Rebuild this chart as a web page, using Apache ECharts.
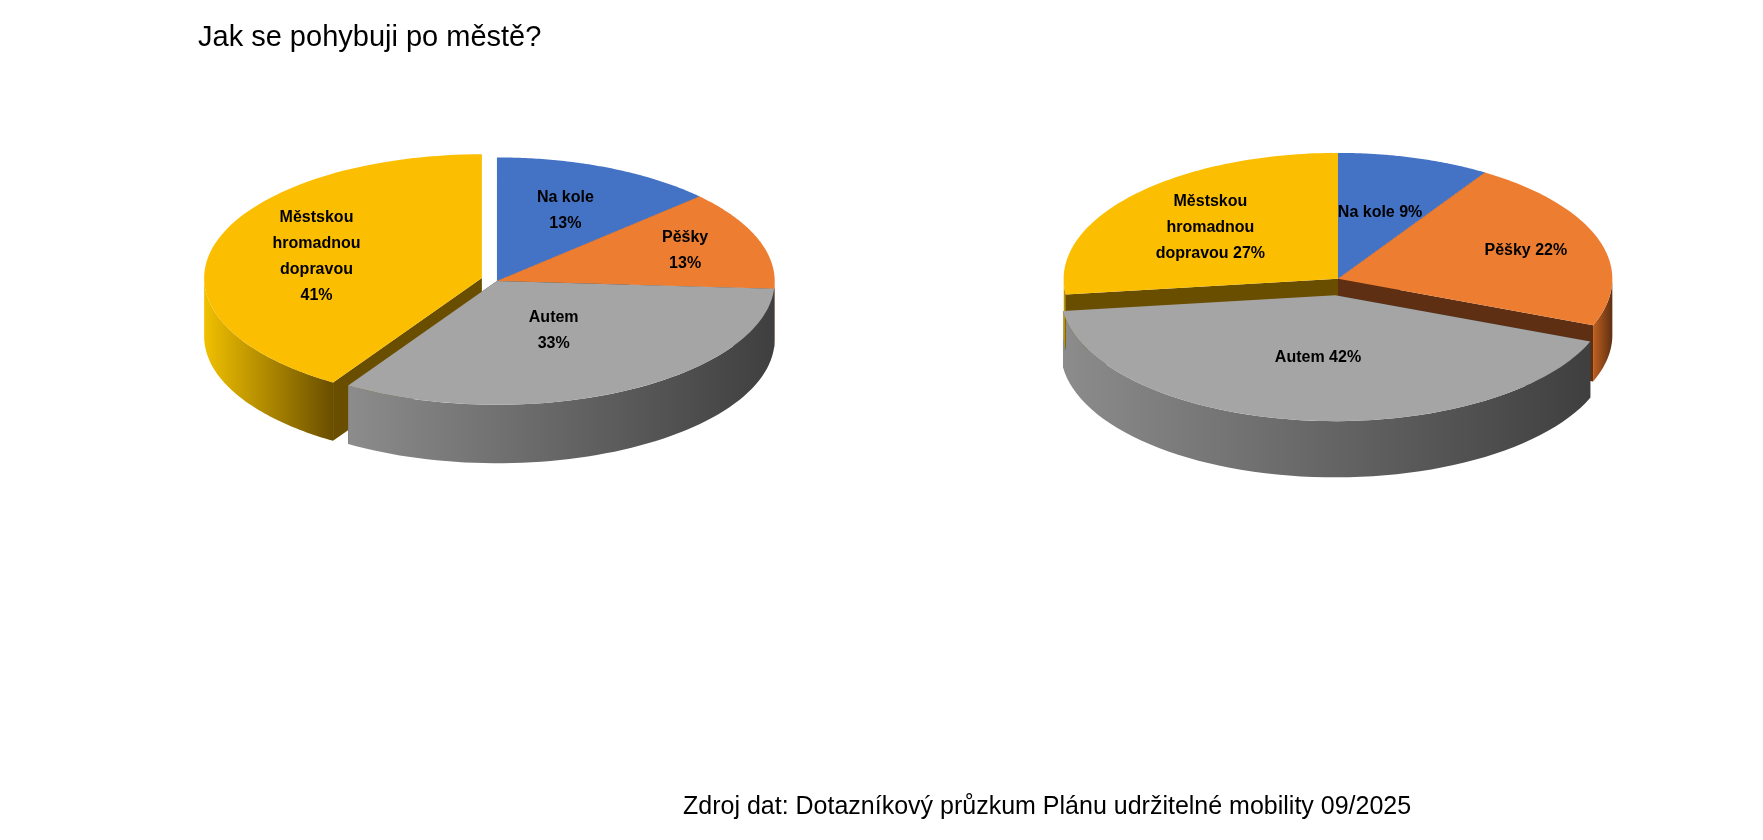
<!DOCTYPE html>
<html><head><meta charset="utf-8">
<script src="https://cdn.jsdelivr.net/npm/echarts@6/dist/echarts.min.js"></script>
<style>html,body{margin:0;padding:0;background:#fff}#c{width:1763px;height:840px}</style>
</head><body><div id="c"></div>
<script>
const categories = ['Na kole','Pěšky','Autem','Městskou\nhromadnou\ndopravou'];
const valuesLeft = [13,13,33,41];
const valuesRight = [9,22,42,27];
const labelsLeft = ['Na kole\n13%','Pěšky\n13%','Autem\n33%','Městskou\nhromadnou\ndopravou\n41%'];
const labelsRight = ['Na kole 9%','Pěšky 22%','Autem 42%','Městskou\nhromadnou\ndopravou 27%'];
const colors = ['#4472C4','#ED7D31','#A5A5A5','#FBBE00'];
const sideDark = ['#2a4a85','#5e2f12','#3f3f3f','#6a4e00'];
const sideLight = ['#5b86d0','#c06020','#8c8c8c','#f0c000'];

const S = 1763/1568;
const pies = [
  {vals: valuesLeft, labels: labelsLeft, cx: 442*S, cy: 250*S, rx: 247*S, ry: 110*S, depth: 52*S, explode: {3: 14*S}, lf:[0.62,0.72,0.45,0.62]},
  {vals: valuesRight, labels: labelsRight, cx: 1190*S, cy: 248*S, rx: 244*S, ry: 112*S, depth: 50*S, explode: {2: 20*S}, lf:[0.55,0.72,0.5,0.62]}
];

function pt(p, ox, oy, th, k, dy) {
  return [p.cx + ox + k*p.rx*Math.sin(th), p.cy + oy - k*p.ry*Math.cos(th) + (dy||0)];
}

function build(p) {
  const total = p.vals.reduce((a,b)=>a+b,0);
  const slices = [];
  let a = 0;
  p.vals.forEach((v,i)=>{
    const a0 = a, a1 = a + v/total*2*Math.PI; a = a1;
    const mid = (a0+a1)/2, e = p.explode[i]||0;
    slices.push({i, a0, a1, mid, ox: e*Math.sin(mid), oy: -e*Math.cos(mid)*p.ry/p.rx*1.6});
  });
  const walls = [], outers = [], tops = [], texts = [];
  slices.forEach(s=>{
    // radial walls
    [s.a0, s.a1].forEach(th=>{
      const c = pt(p,s.ox,s.oy,0,0), e = pt(p,s.ox,s.oy,th,1);
      walls.push({type:'polygon', shape:{points:[c,e,[e[0],e[1]+p.depth],[c[0],c[1]+p.depth]]},
        style:{fill:sideDark[s.i]}});
    });
    // outer front wall
    const lo = Math.max(s.a0, Math.PI/2), hi = Math.min(s.a1, 1.5*Math.PI);
    if (hi > lo) {
      const top = [], bot = [];
      for (let k=0;k<=60;k++){const th=lo+(hi-lo)*k/60; top.push(pt(p,s.ox,s.oy,th,1)); bot.push(pt(p,s.ox,s.oy,th,1,p.depth));}
      outers.push({type:'polygon', shape:{points: top.concat(bot.reverse())},
        style:{fill:{type:'linear',x:0,y:0,x2:1,y2:0,colorStops:[{offset:0,color:sideLight[s.i]},{offset:1,color:sideDark[s.i]}]}}});
    }
    const pts = [pt(p,s.ox,s.oy,0,0)];
    for (let k=0;k<=80;k++){pts.push(pt(p,s.ox,s.oy,s.a0+(s.a1-s.a0)*k/80,1));}
    tops.push({type:'polygon', shape:{points:pts}, style:{fill:colors[s.i], stroke:'#fff', lineWidth: p.explode[s.i]?0:0}});
    const lp = pt(p,s.ox,s.oy,s.mid,p.lf[s.i]);
    texts.push({type:'text', x: lp[0], y: lp[1], style:{text: p.labels[s.i], fill:'#000', font:'bold 16px "Liberation Sans Narrow", "Liberation Sans", sans-serif', align:'center', verticalAlign:'middle', lineHeight: 26}});
  });
  return walls.concat(outers, tops, texts);
}

const chart = echarts.init(document.getElementById('c'));
chart.setOption({
  animation:false,
  title:[
    {text:'Jak se pohybuji po městě?', left:193, top:18, textStyle:{fontFamily:'Liberation Sans', fontSize:29, fontWeight:'normal', color:'#000'}},
    {text:'Zdroj dat: Dotazníkový průzkum Plánu udržitelné mobility 09/2025', left:678, top:790, textStyle:{fontFamily:'Liberation Sans', fontSize:25, fontWeight:'normal', color:'#000'}}
  ],
  series:[{
    type:'custom', coordinateSystem:'none', data:[0,1],
    renderItem:(params)=>({type:'group', children: build(pies[params.dataIndex])})
  }]
});
</script></body></html>
